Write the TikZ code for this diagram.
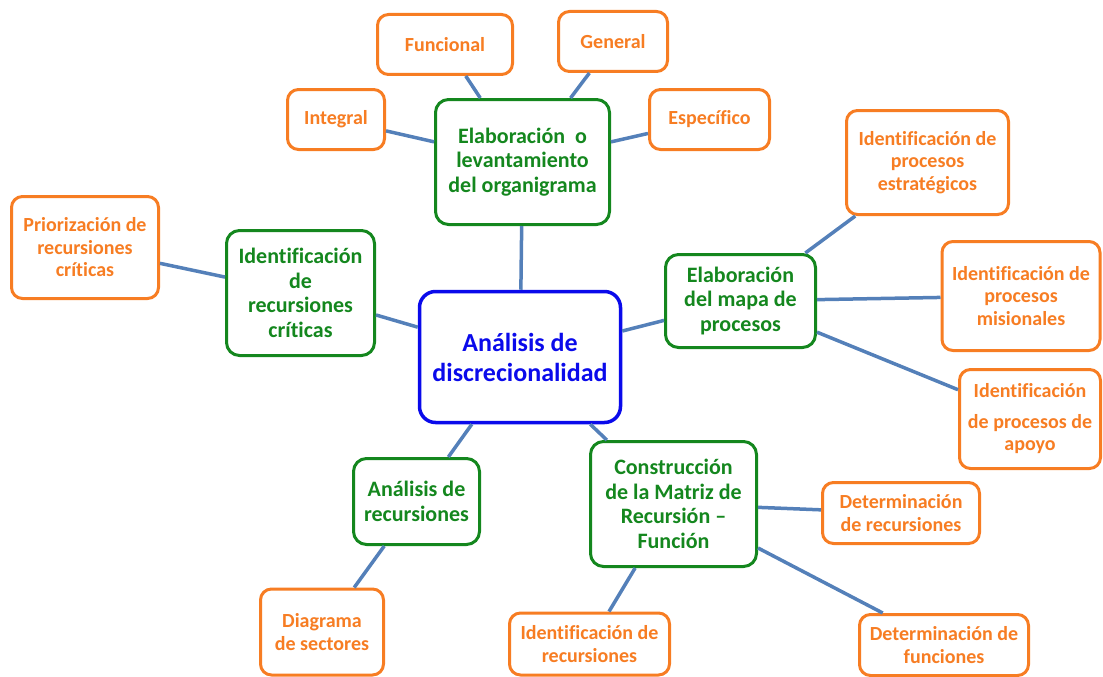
\documentclass[tikz,border=0pt]{standalone}
\usepackage{fontspec}
\setmainfont{Carlito}[Ligatures=CommonOff]
\usepackage{tikz}
\usetikzlibrary{positioning,calc}
\definecolor{HubBlue}{RGB}{10,10,235}
\definecolor{StageGreen}{RGB}{20,135,30}
\definecolor{LeafOrange}{RGB}{247,125,35}
\definecolor{LinkBlue}{RGB}{84,128,185}
\tikzset{hub/.style={draw=HubBlue,text=HubBlue,line width=3.5pt,rounded corners=16pt,fill=white,align=center,inner sep=0pt,font=\fontsize{26}{30}\selectfont\bfseries},
stage/.style={draw=StageGreen,text=StageGreen,line width=3pt,rounded corners=13pt,fill=white,align=center,inner sep=0pt,font=\fontsize{22}{24.5}\selectfont\bfseries},
leaf/.style={draw=LeafOrange,text=LeafOrange,line width=3pt,rounded corners=11pt,fill=white,align=center,inner sep=0pt,font=\fontsize{20}{22.5}\selectfont\bfseries},
link/.style={draw=LinkBlue,line width=3.5pt}}

\begin{document}
\begin{tikzpicture}[x=1pt,y=-1pt]
\useasboundingbox (0,0) rectangle (1103,677);
% centre
\node[hub,minimum width=201,minimum height=131] (hub) at (520,357) {Análisis de\\discrecionalidad};
% green stages
\node[stage,minimum width=174,minimum height=125] (org) at (522.5,162) {Elaboración~~o\\levantamiento\\del organigrama};
\node[stage,minimum width=148,minimum height=125] (crit) at (300.5,293) {Identificación\\de\\recursiones\\críticas};
\node[stage,minimum width=150,minimum height=93] (mapa) at (740.5,301) {Elaboración\\del mapa de\\procesos};
\node[stage,minimum width=126,minimum height=86] (anal) at (416.5,501.5) {Análisis de\\recursiones};
\node[stage,minimum width=166,minimum height=125] (matr) at (673.5,504) {Construcción\\de la Matriz de\\Recursión –\\Función};
% orange leaves
\node[leaf,minimum width=97,minimum height=60] (integ) at (336,119.5) {Integral};
\node[leaf,minimum width=135,minimum height=60] (func) at (445,44.5) {Funcional};
\node[leaf,minimum width=109,minimum height=60] (gen) at (613,41.5) {General};
\node[leaf,minimum width=120,minimum height=60] (esp) at (709.5,119.5) {Específico};
\node[leaf,minimum width=147,minimum height=102] (prio) at (85,247.5) {Priorización de\\recursiones\\críticas};
\node[leaf,minimum width=162,minimum height=104] (estr) at (927.5,162.5) {Identificación de\\procesos\\estratégicos};
\node[leaf,minimum width=158,minimum height=109] (misi) at (1021,296) {Identificación de\\procesos\\misionales};
\node[leaf,minimum width=141,minimum height=99] (apoyo) at (1030,419) {Identificación\\[8pt]de procesos de\\apoyo};
\node[leaf,minimum width=123,minimum height=86] (diag) at (322,632) {Diagrama\\de sectores};
\node[leaf,minimum width=157,minimum height=61] (detrec) at (901,513) {Determinación\\de recursiones};
\node[leaf,minimum width=160,minimum height=62] (idrec) at (589.5,644) {Identificación de\\recursiones};
\node[leaf,minimum width=169,minimum height=61] (detfun) at (944,645) {Determinación de\\funciones};
% links
\draw[link] (hub)--(org);
\draw[link] (hub)--(crit);
\draw[link] (hub)--(mapa);
\draw[link] (hub)--(anal);
\draw[link] (hub)--(matr);
\draw[link] (org)--(integ);
\draw[link] (org)--(func);
\draw[link] (org)--(gen);
\draw[link] (org)--(esp);
\draw[link] (crit)--(prio);
\draw[link] (mapa)--(estr);
\draw[link] (mapa)--(misi);
\draw[link] (mapa)--(apoyo);
\draw[link] (anal)--(diag);
\draw[link] (matr)--(detrec);
\draw[link] (matr)--(idrec);
\draw[link] (matr)--(detfun);
\end{tikzpicture}
\end{document}
